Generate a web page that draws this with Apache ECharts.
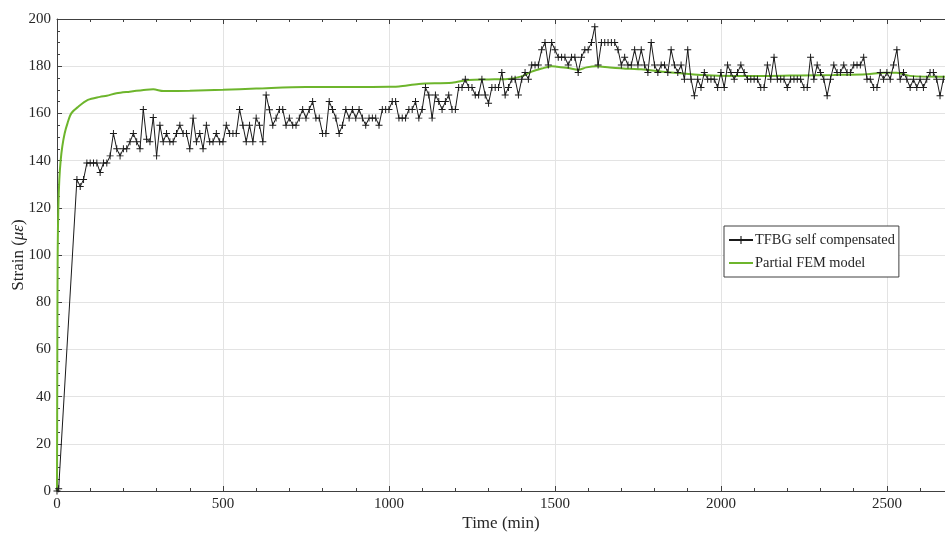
<!DOCTYPE html>
<html>
<head>
<meta charset="utf-8">
<title>Strain vs time</title>
<script src="https://cdn.jsdelivr.net/npm/echarts@6/dist/echarts.min.js"></script>
<style>
  html, body { margin: 0; padding: 0; background: #fff; }
  #chart { width: 945px; height: 537px; }
</style>
</head>
<body>
<div id="chart"></div>
<script>
// measured TFBG strain, one sample every 10 min after the first ramp
const tfbgTime = [
  0, 5,
  60, 70, 80, 90, 100, 110, 120, 130, 140, 150,
  160, 170, 180, 190, 200, 210, 220, 230, 240, 250,
  260, 270, 280, 290, 300, 310, 320, 330, 340, 350,
  360, 370, 380, 390, 400, 410, 420, 430, 440, 450,
  460, 470, 480, 490, 500, 510, 520, 530, 540, 550,
  560, 570, 580, 590, 600, 610, 620, 630, 640, 650,
  660, 670, 680, 690, 700, 710, 720, 730, 740, 750,
  760, 770, 780, 790, 800, 810, 820, 830, 840, 850,
  860, 870, 880, 890, 900, 910, 920, 930, 940, 950,
  960, 970, 980, 990, 1000, 1010, 1020, 1030, 1040, 1050,
  1060, 1070, 1080, 1090, 1100, 1110, 1120, 1130, 1140, 1150,
  1160, 1170, 1180, 1190, 1200, 1210, 1220, 1230, 1240, 1250,
  1260, 1270, 1280, 1290, 1300, 1310, 1320, 1330, 1340, 1350,
  1360, 1370, 1380, 1390, 1400, 1410, 1420, 1430, 1440, 1450,
  1460, 1470, 1480, 1490, 1500, 1510, 1520, 1530, 1540, 1550,
  1560, 1570, 1580, 1590, 1600, 1610, 1620, 1630, 1640, 1650,
  1660, 1670, 1680, 1690, 1700, 1710, 1720, 1730, 1740, 1750,
  1760, 1770, 1780, 1790, 1800, 1810, 1820, 1830, 1840, 1850,
  1860, 1870, 1880, 1890, 1900, 1910, 1920, 1930, 1940, 1950,
  1960, 1970, 1980, 1990, 2000, 2010, 2020, 2030, 2040, 2050,
  2060, 2070, 2080, 2090, 2100, 2110, 2120, 2130, 2140, 2150,
  2160, 2170, 2180, 2190, 2200, 2210, 2220, 2230, 2240, 2250,
  2260, 2270, 2280, 2290, 2300, 2310, 2320, 2330, 2340, 2350,
  2360, 2370, 2380, 2390, 2400, 2410, 2420, 2430, 2440, 2450,
  2460, 2470, 2480, 2490, 2500, 2510, 2520, 2530, 2540, 2550,
  2560, 2570, 2580, 2590, 2600, 2610, 2620, 2630, 2640, 2650,
  2660, 2670
];
const tfbgStrain = [
  0, 1,
  132, 129, 132, 139, 139, 139, 139, 135, 139, 139,
  142, 151.5, 145, 142, 145, 145, 148, 151.5, 148, 145,
  161.7, 149, 148, 158.3, 142, 155, 148, 151.5, 148, 148,
  151.5, 155, 151.5, 151.5, 145, 158, 148, 151.5, 145, 155,
  148, 148, 151.5, 148, 148, 155, 151.5, 151.5, 151.5, 161.7,
  155, 148, 155, 148, 158, 155, 148, 167.8, 161.5, 155,
  158, 161.7, 161.7, 155, 158, 155, 155, 158, 161.7, 158,
  161.7, 165, 158, 158, 151.5, 151.5, 165, 161.7, 158, 151.5,
  155, 161.7, 158, 161.7, 158, 161.7, 158, 155, 158, 158,
  158, 155, 161.7, 161.7, 161.7, 165, 165, 158, 158, 158,
  161.7, 161.7, 165, 158, 161.7, 171, 167.8, 158, 167.8, 165,
  161.7, 165, 167.8, 161.7, 161.7, 171, 171, 174.5, 171, 171,
  167.8, 167.8, 174.5, 167.8, 164.3, 171, 171, 171, 177.3, 167.8,
  171, 174.5, 174.5, 167.8, 174.5, 177.3, 174.5, 180.5, 180.5, 180.5,
  187, 190, 180.5, 190, 187, 183.8, 183.8, 183.8, 180.5, 183.8,
  183.8, 177.3, 183.8, 187, 187, 190, 196.7, 180.5, 190, 190,
  190, 190, 190, 187, 180.5, 183.8, 180.5, 180.5, 187, 180.5,
  187, 180.5, 177.3, 190, 180.5, 177.3, 180.5, 180.5, 177.3, 187,
  180.5, 177.3, 180.5, 174.5, 187, 174.5, 167.5, 174.5, 171, 177.3,
  174.5, 174.5, 174.5, 171, 177.3, 171, 180.5, 177.3, 174.5, 177.3,
  180.5, 177.3, 174.5, 174.5, 174.5, 174.5, 171, 171, 180.5, 174.5,
  183.8, 174.5, 174.5, 174.5, 171, 174.5, 174.5, 174.5, 174.5, 171,
  171, 183.8, 174.5, 180.5, 177.3, 174.5, 167.5, 174.5, 180.5, 177.3,
  177.3, 180.5, 177.3, 177.3, 180.5, 180.5, 180.5, 183.8, 174.5, 174.5,
  171, 171, 177.3, 174.5, 177.3, 174.5, 180.5, 187, 174.5, 177.3,
  174.5, 171, 174.5, 171, 174.5, 171, 174.5, 177.3, 177.3, 174.5,
  167.5, 174.5
];

// partial FEM model curve
const femTime = [
  0, 1, 2, 4, 7, 11, 16, 23, 32, 43, 63, 93, 129, 150, 179, 219, 269, 290,
  320, 400, 500, 600, 750, 900, 1000, 1030, 1090, 1190, 1240, 1300, 1350,
  1400, 1430, 1460, 1490, 1505, 1540, 1570, 1595, 1625, 1665, 1725, 1760,
  1840, 1940, 2040, 2140, 2240, 2340, 2440, 2490, 2530, 2570, 2675
];
const femStrain = [
  0, 60, 100, 120, 132, 140, 146, 151.5, 156, 160, 162.7, 165.7, 167, 167.5, 168.5, 169.2, 170, 170.2,
  169.5, 169.6, 170, 170.5, 171.2, 171.2, 171.3, 171.4, 172.5, 173, 174.2, 174.4, 174.5,
  175.7, 177.7, 179, 180, 179.8, 179.2, 178.5, 179.5, 180, 179.5, 178.9, 178.7,
  177.4, 176.3, 175.9, 175.9, 176.1, 176.3, 176.6, 177.2, 177.2, 175.9, 175.5
];

const seriesNames = ['TFBG self compensated', 'Partial FEM model'];
const xMax = 2675;

function zip(xs, ys) {
  let out = [];
  for (var i = 0; i < xs.length; i++) {
    out.push([xs[i], ys[i]]);
  }
  return out;
}

function plainNumber(v) {
  return String(v);
}

const textColor = '#262626';
const axisColor = '#404040';
const gridColor = '#e3e3e3';
const femColor = '#6db52c';
const fontFamily = '"Liberation Serif", "DejaVu Serif", serif';
// plus marker, filled so it shows in the legend too
const plusPath = 'path://M4.3,0H5.7V4.3H10V5.7H5.7V10H4.3V5.7H0V4.3H4.3Z';

function baseAxis() {
  return {
    axisLine: { show: true, lineStyle: { color: axisColor, width: 1 } },
    axisTick: { show: true, inside: true, length: 5, lineStyle: { color: axisColor } },
    minorTick: { show: true, length: 3, lineStyle: { color: axisColor } },
    axisLabel: { color: textColor, fontFamily: fontFamily, fontSize: 15, formatter: plainNumber },
    splitLine: { show: true, lineStyle: { color: gridColor, width: 1 } }
  };
}

let xBottom = Object.assign(baseAxis(), {
  type: 'value',
  position: 'bottom',
  min: 0,
  max: xMax,
  interval: 500,
  name: 'Time (min)',
  nameLocation: 'middle',
  nameGap: 24,
  nameMoveOverlap: false,
  nameTextStyle: { color: textColor, fontFamily: fontFamily, fontSize: 17 }
});
xBottom.axisLabel.showMaxLabel = false;
xBottom.axisLabel.margin = 6;
xBottom.minorTick.splitNumber = 5;

let xTop = Object.assign(baseAxis(), {
  type: 'value',
  position: 'top',
  min: 0,
  max: xMax,
  interval: 500
});
xTop.axisLabel = { show: false };
xTop.splitLine = { show: false };
xTop.minorTick.splitNumber = 5;

let yLeft = Object.assign(baseAxis(), {
  type: 'value',
  min: 0,
  max: 200,
  interval: 20,
  name: '{n|Strain (}{i|με}{n|)}',
  nameLocation: 'middle',
  nameGap: 30,
  nameMoveOverlap: false,
  nameRotate: 90,
  nameTextStyle: {
    rich: {
      n: { color: textColor, fontFamily: fontFamily, fontSize: 17 },
      i: { color: textColor, fontFamily: fontFamily, fontSize: 17, fontStyle: 'italic' }
    }
  }
});
yLeft.axisLabel.margin = 6;
yLeft.minorTick.splitNumber = 4;

const option = {
  backgroundColor: '#fff',
  animation: false,
  grid: { left: 57, right: 0, top: 19, bottom: 46, outerBoundsMode: 'none', containLabel: false },
  legend: {
    orient: 'vertical',
    left: 724,
    top: 226,
    padding: [6, 4, 6, 4],
    itemGap: 7,
    itemWidth: 24,
    itemHeight: 10,
    backgroundColor: '#fff',
    borderColor: axisColor,
    borderWidth: 1,
    borderRadius: 0,
    textStyle: { color: textColor, fontFamily: fontFamily, fontSize: 14.4, lineHeight: 16, padding: [0, 0, 0, -3] },
    data: [
      { name: seriesNames[0] },
      // line only, no circle in the icon
      { name: seriesNames[1], itemStyle: { color: 'rgba(0,0,0,0)', borderWidth: 0 } }
    ]
  },
  xAxis: [xBottom, xTop],
  yAxis: yLeft,
  series: [
    {
      name: seriesNames[0],
      type: 'line',
      xAxisIndex: 0,
      data: zip(tfbgTime, tfbgStrain),
      symbol: plusPath,
      symbolSize: 7,
      showSymbol: true,
      itemStyle: { color: '#1a1a1a' },
      lineStyle: { color: '#1a1a1a', width: 1 },
      z: 3
    },
    {
      name: seriesNames[1],
      type: 'line',
      xAxisIndex: 0,
      data: zip(femTime, femStrain),
      smooth: 0.3,
      symbol: 'none',
      itemStyle: { color: femColor },
      lineStyle: { color: femColor, width: 2 },
      z: 2
    }
  ]
};

const chart = echarts.init(document.getElementById('chart'), null, { renderer: 'canvas' });
chart.setOption(option);
</script>
</body>
</html>
